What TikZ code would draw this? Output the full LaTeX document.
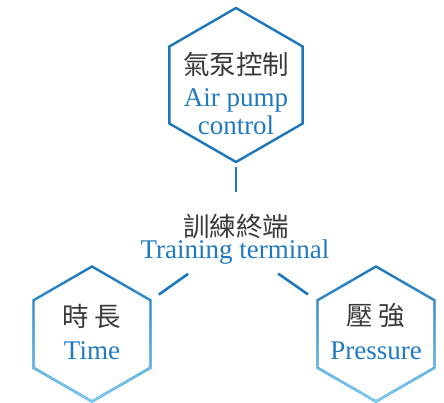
\documentclass[tikz,border=0pt]{standalone}
\usepackage{fontspec}
\setmainfont{Liberation Serif}
\newfontfamily\zhfont{Noto Sans CJK TC}
\usetikzlibrary{shapes.geometric, fadings, calc}

\definecolor{hexblue}{RGB}{27,118,188}
\definecolor{hexlight}{RGB}{130,204,242}
\definecolor{enblue}{RGB}{31,122,193}
\definecolor{zhgray}{RGB}{58,58,58}

% fades in from the top (clear) to the bottom (solid)
\tikzfading[name=lowfade, top color=transparent!100, bottom color=transparent!0]

\begin{document}
\begin{tikzpicture}[
    x=1pt, y=-1pt,
    hexagon/.style={
      regular polygon,
      regular polygon sides=6,
      shape border rotate=30,
      inner sep=0pt,
      outer sep=0pt,
      line width=2.4pt,
      draw=hexblue
    },
    fadehex/.style={
      hexagon,
      postaction={draw=hexlight, line width=2.4pt, path fading=lowfade}
    },
    zh/.style={
      inner sep=0pt,
      text=zhgray,
      font=\zhfont\fontsize{26.5}{30}\selectfont
    },
    en/.style={
      inner sep=0pt,
      text=enblue,
      align=center,
      font=\fontsize{27}{28}\selectfont
    },
    link/.style={
      line width=2.6pt,
      draw=hexblue
    }
  ]

  \useasboundingbox (0,0) rectangle (444,403);

  % Hexagons
  \node[hexagon, minimum size=154pt] (air) at (236,85) {};
  \node[fadehex, minimum size=135pt] (time) at (92,334) {};
  \node[fadehex, minimum size=135pt] (press) at (376,334) {};

  % Texts in the hexagons
  \node[zh] (airzh) at (236,64.5) {氣泵控制};
  \node[en] (airen) at (236,112) {Air pump\\control};
  \node[zh] (timezh) at (92,316) {時 長};
  \node[en] (timeen) at (92,351) {Time};
  \node[zh] (presszh) at (376,316) {壓 強};
  \node[en] (pressen) at (376,351) {Pressure};

  % Middle label
  \node[zh] (termzh) at (236,226) {訓練終端};
  \node[en] (termen) at (235,252) {Training terminal};
  \coordinate (hub) at (233,242);

  % Connectors
  \draw[link, shorten <=5pt, shorten >=21pt] (air) -- (termzh);
  \draw[link, shorten <=55pt, shorten >=82pt] (hub) -- ([yshift=-8pt]time.center);
  \draw[link, shorten <=55pt, shorten >=83pt] (hub) -- ([yshift=-8pt]press.center);

\end{tikzpicture}
\end{document}
